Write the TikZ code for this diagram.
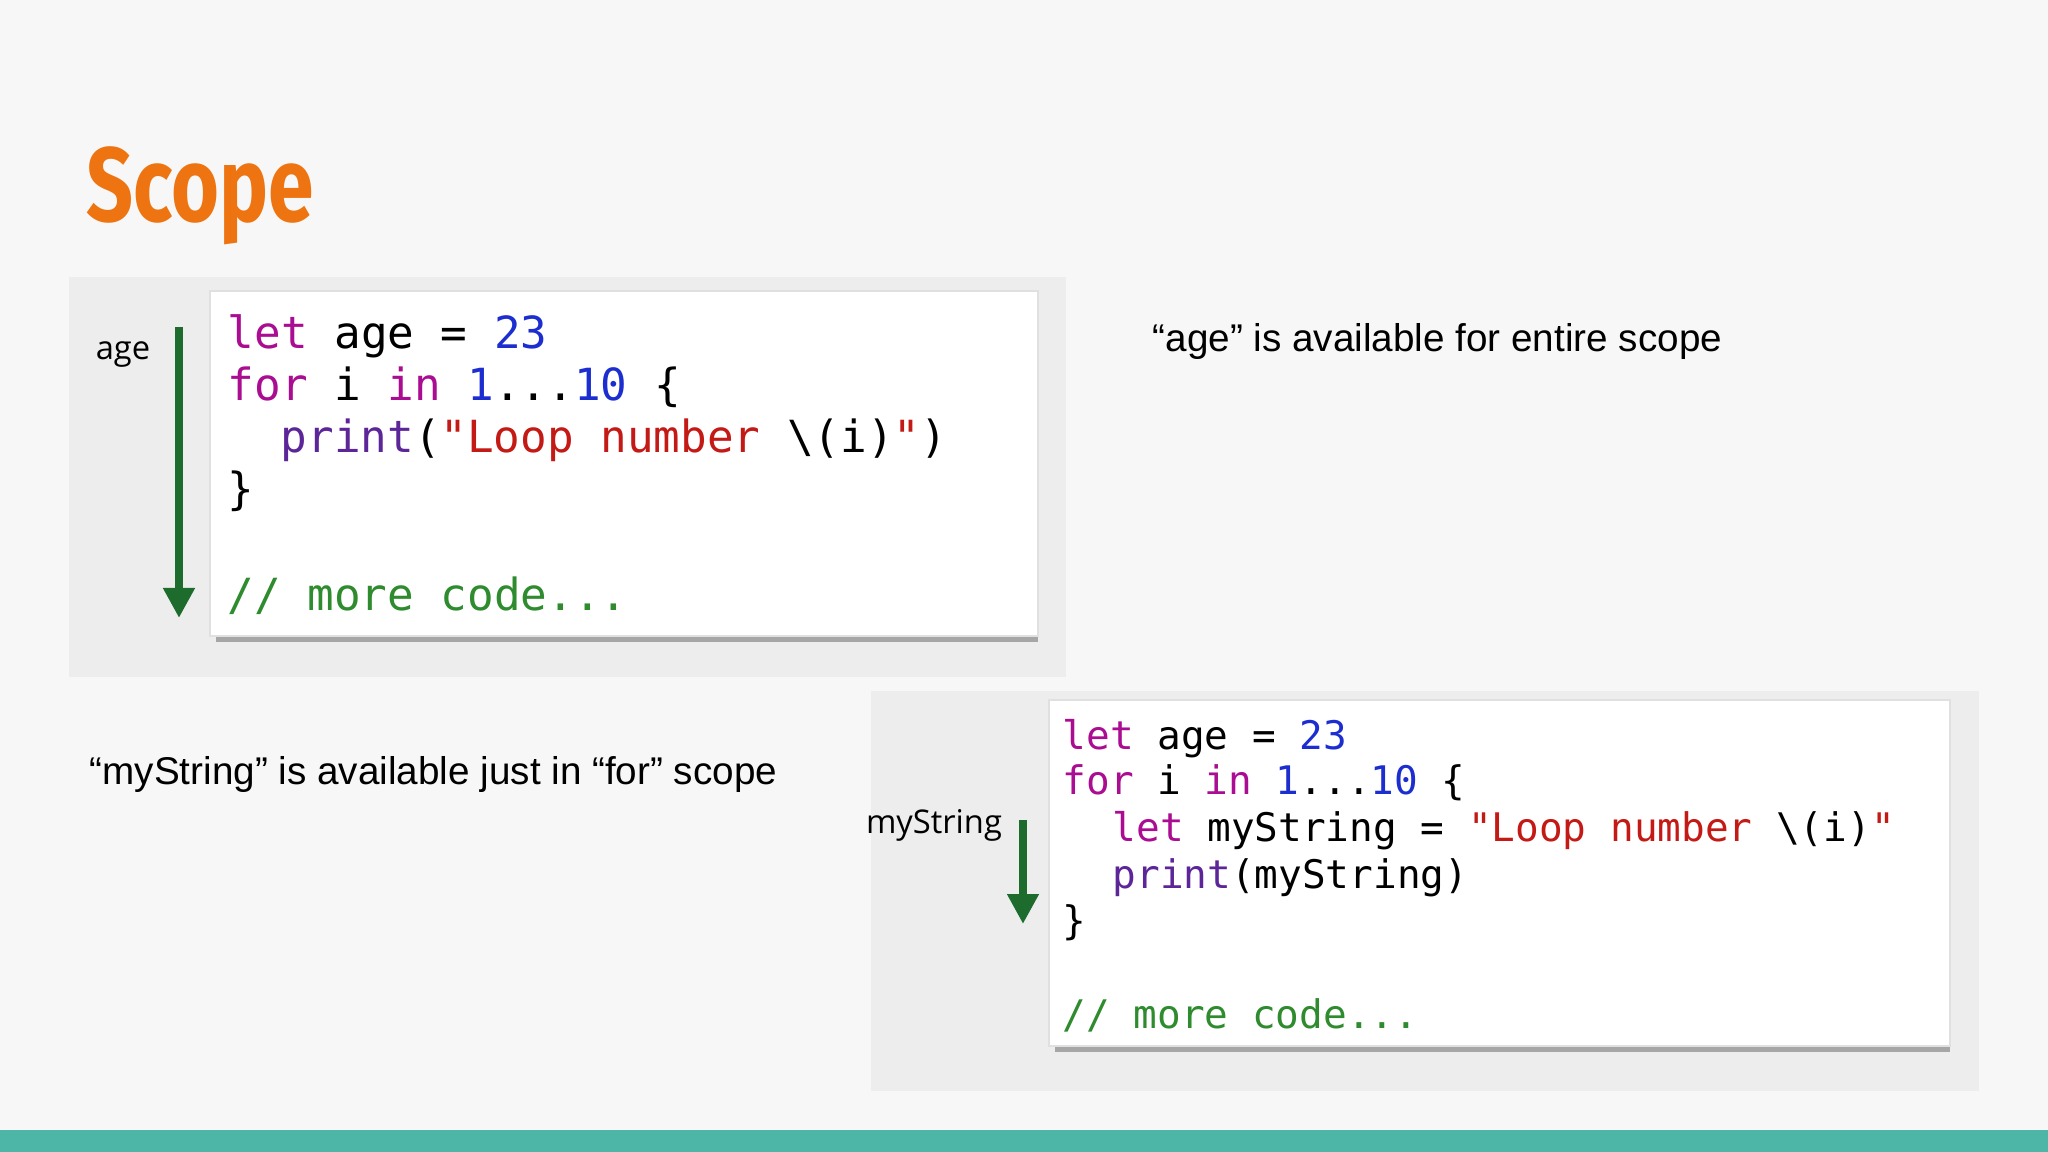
\documentclass[tikz,border=0pt]{standalone}
\usepackage{fontspec}
\setmainfont{Liberation Sans}
\setmonofont{DejaVu Sans Mono}
\newfontfamily\titlefont{Fira Sans}
\newfontfamily\labelfont{Open Sans}
\usetikzlibrary{arrows.meta}
\definecolor{titleorange}{HTML}{EE7411}
\definecolor{panelgray}{HTML}{EDEDED}
\definecolor{kwcol}{HTML}{AA0D91}
\definecolor{numcol}{HTML}{1C2ECF}
\definecolor{strcol}{HTML}{C41A16}
\definecolor{fncol}{HTML}{5C2699}
\definecolor{cmtcol}{HTML}{2E8B2E}
\definecolor{arrowgreen}{HTML}{1E6B2E}
\definecolor{barteal}{HTML}{4DB6A6}
\newcommand\kw[1]{\textcolor{kwcol}{#1}}
\newcommand\num[1]{\textcolor{numcol}{#1}}
\newcommand\str[1]{\textcolor{strcol}{#1}}
\newcommand\fn[1]{\textcolor{fncol}{#1}}
\tikzset{
  bigcode/.style={anchor=base west, inner sep=0pt, font=\fontsize{12.6}{14}\ttfamily},
  smallcode/.style={anchor=base west, inner sep=0pt, font=\fontsize{11.2}{13}\ttfamily},
  codebox/.style={fill=white, draw=black!12, line width=0.4pt},
  scopearrow/.style={-{Triangle[length=3mm,width=3mm]}, line width=2.2pt, arrowgreen},
  varlabel/.style={anchor=base, inner sep=0pt, font=\labelfont\fontsize{9.3}{11}\selectfont},
  note/.style={anchor=base west, inner sep=0pt, font=\fontsize{11}{13}\selectfont}
}
\begin{document}
\begin{tikzpicture}
    \fill[white!97!black] (0,0) rectangle (20.48,-11.52);
    \useasboundingbox (0,0) rectangle (20.48,-11.52);
    \fill[barteal] (0,-11.30) rectangle (20.48,-11.52);
    \node[anchor=base west, inner sep=0pt, xscale=0.78, text=titleorange, font=\titlefont\bfseries\fontsize{30}{34}\selectfont] (title) at (0.86,-2.22) {Scope};
    % upper panel
    \fill[panelgray] (0.69,-2.77) rectangle (10.66,-6.77);
    \fill[black!35] (2.16,-6.30) rectangle (10.38,-6.42);
    \draw[codebox] (2.10,-2.91) rectangle (10.38,-6.36);
    \node[bigcode] (a1) at (2.27,-3.49) {\kw{let} age = \num{23}};
    \node[bigcode] (a2) at (2.27,-4.01) {\kw{for} i \kw{in} \num{1}...\num{10} \{};
    \node[bigcode] (a3) at (2.80,-4.53) {\fn{print}(\str{"Loop number }\textbackslash(i)\str{"})};
    \node[bigcode] (a4) at (2.27,-5.05) {\}};
    \node[bigcode] (a5) at (2.27,-6.10) {\textcolor{cmtcol}{// more code...}};
    \coordinate (agetop) at (1.79,-3.27);
    \coordinate (agebot) at (1.79,-6.18);
    \draw[scopearrow] (agetop) -- (agebot);
    \node[varlabel] (agelbl) at (1.23,-3.60) {age};
    \node[note] (agenote) at (11.52,-3.52) {“age” is available for entire scope};
    % lower panel
    \fill[panelgray] (8.71,-6.91) rectangle (19.79,-10.91);
    \fill[black!35] (10.55,-10.40) rectangle (19.50,-10.52);
    \draw[codebox] (10.49,-7.00) rectangle (19.50,-10.46);
    \node[smallcode] (b1) at (10.62,-7.50) {\kw{let} age = \num{23}};
    \node[smallcode] (b2) at (10.62,-7.95) {\kw{for} i \kw{in} \num{1}...\num{10} \{};
    \node[smallcode] (b3) at (11.12,-8.42) {\kw{let} myString = \str{"Loop number }\textbackslash(i)\str{"}};
    \node[smallcode] (b4) at (11.12,-8.88) {\fn{print}(myString)};
    \node[smallcode] (b5) at (10.62,-9.34) {\}};
    \node[smallcode] (b6) at (10.62,-10.28) {\textcolor{cmtcol}{// more code...}};
    \coordinate (strtop) at (10.23,-8.20);
    \coordinate (strbot) at (10.23,-9.24);
    \draw[scopearrow] (strtop) -- (strbot);
    \node[varlabel] (strlbl) at (9.34,-8.34) {myString};
    \node[note] (strnote) at (0.89,-7.84) {“myString” is available just in “for” scope};
\end{tikzpicture}
\end{document}
